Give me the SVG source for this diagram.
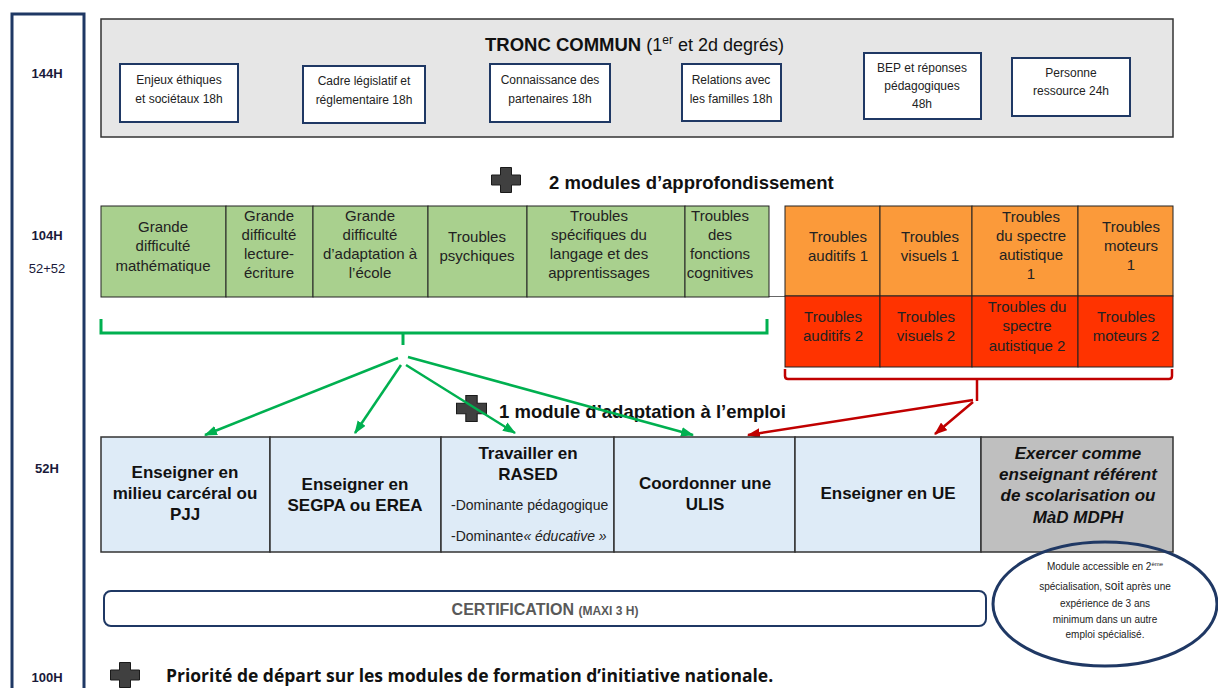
<svg xmlns="http://www.w3.org/2000/svg" xmlns:xlink="http://www.w3.org/1999/xlink" width="1218" height="688" viewBox="0 0 1218 688">
<style>
text{font-family:"Liberation Sans",Arial,sans-serif;fill:#111}
.lab{font-size:13px;font-weight:bold;fill:#1a1a3a;text-anchor:middle}
.labn{font-size:13px;fill:#1a1a3a;text-anchor:middle}
.tc{fill:#fff;stroke:#1f3864;stroke-width:2}
.tct{font-size:12px;text-anchor:middle;fill:#222}
.cell{stroke:#222;stroke-width:1}
.ct{font-size:15px;text-anchor:middle;fill:#222}
.bt{font-size:17px;font-weight:bold;text-anchor:middle;fill:#111}
.head{font-size:18.5px;font-weight:bold;fill:#111}
.g{fill:none;stroke:#00b050;stroke-width:3}
.ga{fill:none;stroke:#00b050;stroke-width:2.5;marker-end:url(#ag)}
.r{fill:none;stroke:#c00000;stroke-width:2.5}
.ra{fill:none;stroke:#c00000;stroke-width:2.5;marker-end:url(#ar)}
.el{font-size:10px;text-anchor:middle;fill:#222}
</style>
<defs>
<marker id="ag" viewBox="0 0 12 9" refX="11" refY="4.5" markerWidth="13" markerHeight="10" markerUnits="userSpaceOnUse" orient="auto"><path d="M0,0 L12,4.5 L0,9 z" fill="#00b050"/></marker>
<marker id="ar" viewBox="0 0 12 9" refX="11" refY="4.5" markerWidth="13" markerHeight="10" markerUnits="userSpaceOnUse" orient="auto"><path d="M0,0 L12,4.5 L0,9 z" fill="#c00000"/></marker>
<symbol id="plus" viewBox="0 0 30 26" overflow="visible"><path d="M9.5,0.5 h11 v7.5 h9 v10 h-9 v7.5 h-11 v-7.5 h-9 v-10 h9 z" fill="#404040" stroke="#1a1a1a" stroke-width="1"/></symbol>
</defs>
<rect width="1218" height="688" fill="#fff"/>

<g id="hours">
<path d="M12,690 V14 H84 V690" fill="none" stroke="#1f3864" stroke-width="3"/>
<text class="lab" x="47" y="78">144H</text>
<text class="lab" x="47" y="240">104H</text>
<text class="labn" x="47" y="273">52+52</text>
<text class="lab" x="47" y="473">52H</text>
<text class="lab" x="47" y="682">100H</text>
</g>

<g id="tronc-commun">
<rect x="101" y="19" width="1072" height="118" fill="#e6e6e6" stroke="#333" stroke-width="1.5"/>
<text x="485" y="51" style="font-size:18px"><tspan font-weight="bold" style="font-size:18.5px">TRONC COMMUN</tspan> (1<tspan dy="-7" style="font-size:12px">er</tspan><tspan dy="7"> et 2d degrés)</tspan></text>
</g>
<g id="tc1"><rect class="tc" x="120" y="64" width="118" height="58"/><text class="tct" x="179" y="84">Enjeux éthiques</text><text class="tct" x="179" y="103">et sociétaux 18h</text></g>
<g id="tc2"><rect class="tc" x="303" y="66" width="122" height="57"/><text class="tct" x="364" y="85">Cadre législatif et</text><text class="tct" x="364" y="104">réglementaire 18h</text></g>
<g id="tc3"><rect class="tc" x="490" y="64" width="120" height="58"/><text class="tct" x="550" y="84">Connaissance des</text><text class="tct" x="550" y="103">partenaires 18h</text></g>
<g id="tc4"><rect class="tc" x="682" y="64" width="99" height="57"/><text class="tct" x="731" y="84">Relations avec</text><text class="tct" x="731" y="103">les familles 18h</text></g>
<g id="tc5"><rect class="tc" x="864" y="53" width="117" height="66"/><text class="tct" x="922" y="72">BEP et réponses</text><text class="tct" x="922" y="90">pédagogiques</text><text class="tct" x="922" y="108">48h</text></g>
<g id="tc6"><rect class="tc" x="1012" y="58" width="118" height="58"/><text class="tct" x="1071" y="77">Personne</text><text class="tct" x="1071" y="95">ressource 24h</text></g>

<g id="approfondissement-title">
<use xlink:href="#plus" x="491" y="167" width="30" height="26"/>
<text class="head" x="549" y="189">2 modules d’approfondissement</text>
</g>

<g id="green-modules">
<line x1="769" y1="296.5" x2="785" y2="296.5" stroke="#666" stroke-width="1"/>
<g id="gm1"><rect class="cell" x="101" y="206" width="125" height="91" fill="#a9d08e"/><text class="ct" x="163" y="232">Grande</text><text class="ct" x="163" y="251">difficulté</text><text class="ct" x="163" y="271">mathématique</text></g>
<g id="gm2"><rect class="cell" x="226" y="206" width="87" height="91" fill="#a9d08e"/><text class="ct" x="269" y="221">Grande</text><text class="ct" x="269" y="240">difficulté</text><text class="ct" x="269" y="259">lecture-</text><text class="ct" x="269" y="278">écriture</text></g>
<g id="gm3"><rect class="cell" x="313" y="206" width="115" height="91" fill="#a9d08e"/><text class="ct" x="370" y="221">Grande</text><text class="ct" x="370" y="240">difficulté</text><text class="ct" x="370" y="259">d’adaptation à</text><text class="ct" x="370" y="278">l’école</text></g>
<g id="gm4"><rect class="cell" x="428" y="206" width="99" height="91" fill="#a9d08e"/><text class="ct" x="477" y="242">Troubles</text><text class="ct" x="477" y="261">psychiques</text></g>
<g id="gm5"><rect class="cell" x="527" y="206" width="158" height="91" fill="#a9d08e"/><text class="ct" x="599" y="221">Troubles</text><text class="ct" x="599" y="240">spécifiques du</text><text class="ct" x="599" y="259">langage et des</text><text class="ct" x="599" y="278">apprentissages</text></g>
<g id="gm6"><rect class="cell" x="685" y="206" width="84" height="91" fill="#a9d08e"/><text class="ct" x="720" y="221">Troubles</text><text class="ct" x="720" y="240">des</text><text class="ct" x="720" y="259">fonctions</text><text class="ct" x="720" y="278">cognitives</text></g>
</g>

<g id="orange-modules">
<g id="om1"><rect class="cell" x="785" y="206" width="95" height="90" fill="#fb9a3a"/><text class="ct" x="838" y="242">Troubles</text><text class="ct" x="838" y="261">auditifs 1</text></g>
<g id="om2"><rect class="cell" x="880" y="206" width="92" height="90" fill="#fb9a3a"/><text class="ct" x="930" y="242">Troubles</text><text class="ct" x="930" y="261">visuels 1</text></g>
<g id="om3"><rect class="cell" x="972" y="206" width="106" height="90" fill="#fb9a3a"/><text class="ct" x="1031" y="222">Troubles</text><text class="ct" x="1031" y="241">du spectre</text><text class="ct" x="1031" y="260">autistique</text><text class="ct" x="1031" y="279">1</text></g>
<g id="om4"><rect class="cell" x="1078" y="206" width="95" height="90" fill="#fb9a3a"/><text class="ct" x="1131" y="232">Troubles</text><text class="ct" x="1131" y="251">moteurs</text><text class="ct" x="1131" y="270">1</text></g>
<g id="rm1"><rect class="cell" x="785" y="296" width="95" height="71" fill="#ff3300"/><text class="ct" x="833" y="322">Troubles</text><text class="ct" x="833" y="341">auditifs 2</text></g>
<g id="rm2"><rect class="cell" x="880" y="296" width="92" height="71" fill="#ff3300"/><text class="ct" x="926" y="322">Troubles</text><text class="ct" x="926" y="341">visuels 2</text></g>
<g id="rm3"><rect class="cell" x="972" y="296" width="106" height="71" fill="#ff3300"/><text class="ct" x="1027" y="312">Troubles du</text><text class="ct" x="1027" y="331">spectre</text><text class="ct" x="1027" y="351">autistique 2</text></g>
<g id="rm4"><rect class="cell" x="1078" y="296" width="95" height="71" fill="#ff3300"/><text class="ct" x="1126" y="322">Troubles</text><text class="ct" x="1126" y="341">moteurs 2</text></g>
</g>

<g id="adaptation-title">
<use xlink:href="#plus" x="456" y="395" width="31" height="27"/>
<text class="head" x="499" y="418">1 module d’adaptation à l’emploi</text>
</g>

<g id="connectors">
<path class="g" d="M101,319 V333 H767 V319"/>
<path class="g" d="M403,333 V345"/>
<path class="ga" d="M398,358 L205,435"/>
<path class="ga" d="M401,365 L355,433"/>
<path class="ga" d="M406,365 L515,433"/>
<path class="ga" d="M408,357 L693,435"/>
<path class="r" d="M785,369 V376 Q785,379 788,379 H1169 Q1172,379 1172,376 V369"/>
<path class="r" d="M977,379 V401"/>
<path class="ra" d="M973,400 L748,435"/>
<path class="ra" d="M973,402 L935,434"/>
</g>

<g id="emplois">
<g id="e1"><rect x="101" y="437" width="169" height="115" fill="#deebf7" stroke="#333" stroke-width="1.5"/><text class="bt" x="185" y="478">Enseigner en</text><text class="bt" x="185" y="499">milieu carcéral ou</text><text class="bt" x="185" y="520">PJJ</text></g>
<g id="e2"><rect x="270" y="437" width="171" height="115" fill="#deebf7" stroke="#333" stroke-width="1.5"/><text class="bt" x="355" y="490">Enseigner en</text><text class="bt" x="355" y="511">SEGPA ou EREA</text></g>
<g id="e3"><rect x="441" y="437" width="173" height="115" fill="#deebf7" stroke="#333" stroke-width="1.5"/><text class="bt" x="528" y="459">Travailler en</text><text class="bt" x="528" y="480">RASED</text><text x="451" y="510" style="font-size:14px;fill:#222">-Dominante pédagogique</text><text x="451" y="541" style="font-size:14px;fill:#222">-Dominante<tspan font-style="italic">« éducative »</tspan></text></g>
<g id="e4"><rect x="614" y="437" width="181" height="115" fill="#deebf7" stroke="#333" stroke-width="1.5"/><text class="bt" x="705" y="489">Coordonner une</text><text class="bt" x="705" y="510">ULIS</text></g>
<g id="e5"><rect x="795" y="437" width="186" height="115" fill="#deebf7" stroke="#333" stroke-width="1.5"/><text class="bt" x="888" y="499">Enseigner en UE</text></g>
<g id="e6"><rect x="981" y="437" width="192" height="115" fill="#bfbfbf" stroke="#333" stroke-width="1.5"/><text class="bt" x="1078" y="459" font-style="italic">Exercer comme</text><text class="bt" x="1078" y="480" font-style="italic">enseignant référent</text><text class="bt" x="1078" y="501" font-style="italic">de scolarisation ou</text><text class="bt" x="1078" y="523" font-style="italic">MàD MDPH</text></g>
</g>

<g id="certification">
<rect x="104" y="591" width="882" height="35" rx="7" fill="#fff" stroke="#1f3864" stroke-width="2"/>
<text x="545" y="615" text-anchor="middle" style="font-size:16px;font-weight:bold;fill:#595959">CERTIFICATION <tspan style="font-size:12px">(MAXI 3 H)</tspan></text>
</g>

<g id="note">
<ellipse cx="1105" cy="604" rx="112" ry="62" fill="none" stroke="#1f3864" stroke-width="3"/>
<text class="el" x="1105" y="570">Module accessible en 2<tspan dy="-4" style="font-size:6px">ème</tspan></text>
<text class="el" x="1105" y="590">spécialisation, <tspan style="font-size:12px">soit</tspan> après une</text>
<text class="el" x="1105" y="607">expérience de 3 ans</text>
<text class="el" x="1105" y="623">minimum dans un autre</text>
<text class="el" x="1105" y="638">emploi spécialisé.</text>
</g>

<g id="priorite">
<use xlink:href="#plus" x="110" y="662" width="30" height="26"/>
<text x="166" y="682" style="font-family:'Open Sans','Liberation Sans',sans-serif;font-size:17.5px;font-weight:bold;fill:#111">Priorité de départ sur les modules de formation d’initiative nationale.</text>
</g>
</svg>
